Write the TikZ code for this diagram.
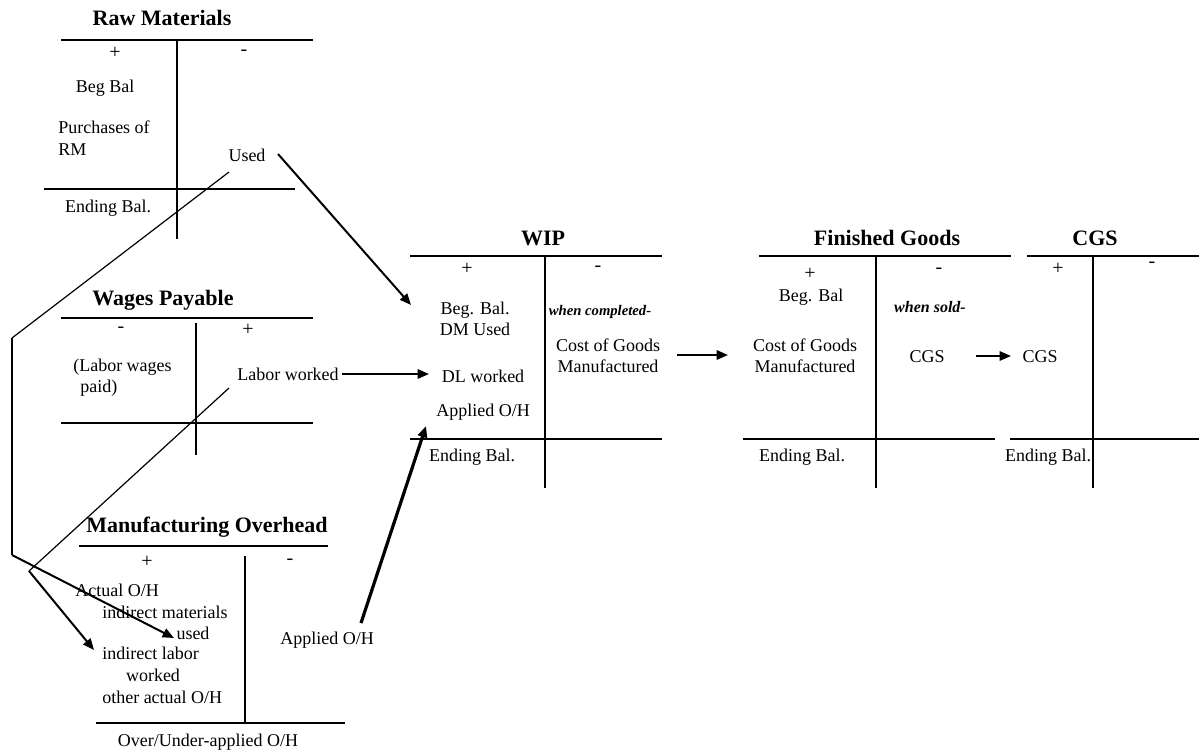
\documentclass[tikz,border=0pt]{standalone}
\usepackage{fontspec}
\setmainfont{Liberation Serif}
\usetikzlibrary{arrows.meta}
\begin{document}
\begin{tikzpicture}[x=0.75pt,y=-0.75pt,
  tline/.style={line width=1pt},
  thinln/.style={line width=0.9pt},
  medln/.style={line width=1.5pt},
  arr/.style={line width=1.5pt,-{Triangle[length=8.5pt,width=7pt]}},
  thickarr/.style={line width=2.4pt,-{Triangle[length=8.5pt,width=7pt]}},
  txt/.style={font=\fontsize{13.5}{15.5}\selectfont,inner sep=0pt},
  sgn/.style={font=\fontsize{15}{16}\selectfont,inner sep=0pt},
  ttl/.style={font=\fontsize{16.5}{18}\selectfont\bfseries,inner sep=0pt},
  bitxt/.style={font=\fontsize{12}{14}\selectfont\bfseries\itshape,inner sep=0pt}]
\useasboundingbox (0,0) rectangle (1199,751);

% ---------- Raw Materials ----------
\node[ttl] (rmT) at (162,18) {Raw Materials};
\draw[tline] (61,40) -- (313,40) (177,40) -- (177,239) (44,189) -- (295,189);
\node[sgn] (rmP) at (115,53) {+};
\node[sgn] (rmM) at (244,53) {-};
\node[txt] (rmBeg) at (105,88) {Beg Bal};
\node[txt,anchor=west] (rmPur) at (58,127) {Purchases of};
\node[txt,anchor=west] (rmRM) at (58,150) {RM};
\node[txt] (rmUsed) at (247,155) {Used};
\node[txt] (rmEnd) at (108,208) {Ending Bal.};

% ---------- Wages Payable ----------
\node[ttl] (wpT) at (163,300) {Wages Payable};
\draw[tline] (61,318) -- (313,318) (196,323) -- (196,455) (61,423) -- (313,423);
\node[sgn] (wpM) at (121,330) {-};
\node[sgn] (wpP) at (248,330) {+};
\node[txt,anchor=west] (wpL1) at (73,367) {(Labor wages};
\node[txt,anchor=west] (wpL2) at (80,388) {paid)};
\node[txt] (wpLW) at (288,374) {Labor worked};

% ---------- Manufacturing Overhead ----------
\node[ttl] (mohT) at (207,527) {Manufacturing Overhead};
\draw[tline] (79,546) -- (328,546) (245,556) -- (245,723) (96,723) -- (345,723);
\node[sgn] (mohP) at (147,562) {+};
\node[sgn] (mohM) at (290,562) {-};
\node[txt,anchor=west] (mohAct) at (75,590) {Actual O/H};
\node[txt,anchor=west] (mohIM) at (102,612) {indirect materials};
\node[txt] (mohUsed) at (193,633) {used};
\node[txt,anchor=west] (mohIL) at (102,653) {indirect labor};
\node[txt] (mohW) at (153,675) {worked};
\node[txt,anchor=west] (mohOth) at (102,697) {other actual O/H};
\node[txt] (mohApp) at (327,640) {Applied O/H};
\node[txt] (mohOU) at (208,742) {Over/Under-applied O/H};

% ---------- WIP ----------
\node[ttl] (wipT) at (543,238) {WIP};
\draw[tline] (410,256) -- (662,256) (545,256) -- (545,488) (410,439) -- (662,439);
\node[sgn] (wipP) at (467,269) {+};
\node[sgn] (wipM) at (598,269) {-};
\node[txt,align=center] (wipBeg) at (475,319) {Beg. Bal.\\DM Used};
\node[bitxt,font=\fontsize{11}{13}\selectfont\bfseries\itshape] (wipWC) at (600,312) {when completed-};
\node[txt,align=center] (wipCGM) at (608,356) {Cost of Goods\\Manufactured};
\node[txt] (wipDL) at (483,376) {DL worked};
\node[txt] (wipApp) at (483,412) {Applied O/H};
\node[txt] (wipEnd) at (472,457) {Ending Bal.};

% ---------- Finished Goods ----------
\node[ttl] (fgT) at (887,238) {Finished Goods};
\draw[tline] (759,256) -- (1011,256) (876,256) -- (876,488) (743,439) -- (995,439);
\node[sgn] (fgP) at (810,274) {+};
\node[sgn] (fgM) at (939,271) {-};
\node[txt] (fgBeg) at (811,297) {Beg. Bal};
\node[bitxt] (fgWS) at (930,307) {when sold-};
\node[txt,align=center] (fgCGM) at (805,356) {Cost of Goods\\Manufactured};
\node[txt] (fgCGS) at (927,357) {CGS};
\node[txt] (fgEnd) at (802,457) {Ending Bal.};

% ---------- CGS ----------
\node[ttl] (cgsT) at (1095,238) {CGS};
\draw[tline] (1027,256) -- (1199,256) (1093,256) -- (1093,488) (1010,439) -- (1199,439);
\node[sgn] (cgsP) at (1058,269) {+};
\node[sgn] (cgsM) at (1152,265) {-};
\node[txt] (cgsCGS) at (1040,357) {CGS};
\node[txt] (cgsEnd) at (1048,457) {Ending Bal.};

% ---------- connector points ----------
\coordinate (usedA) at (278,154);
\coordinate (wipIn) at (411,305);
\coordinate (usedB) at (229,172);
\coordinate (bendA) at (12,338);
\coordinate (bendB) at (12,555);
\coordinate (imIn) at (174,638);
\coordinate (lwA) at (342,374);
\coordinate (dlIn) at (429,374);
\coordinate (lwB) at (229,388);
\coordinate (bendC) at (29,571);
\coordinate (ilIn) at (94,650);
\coordinate (appA) at (361,623);
\coordinate (appIn) at (426,426);
\coordinate (cgmA) at (677,355);
\coordinate (cgmIn) at (728,355);
\coordinate (cgsA) at (976,356);
\coordinate (cgsIn) at (1011,356);

% ---------- connectors ----------
\draw[arr] (usedA) -- (wipIn);
\draw[thinln] (usedB) -- (bendA);
\draw[medln] (bendA) -- (bendB);
\draw[arr] (bendB) -- (imIn);
\draw[arr] (lwA) -- (dlIn);
\draw[thinln] (lwB) -- (bendC);
\draw[arr] (bendC) -- (ilIn);
\draw[thickarr] (appA) -- (appIn);
\draw[arr] (cgmA) -- (cgmIn);
\draw[arr] (cgsA) -- (cgsIn);
\end{tikzpicture}
\end{document}
